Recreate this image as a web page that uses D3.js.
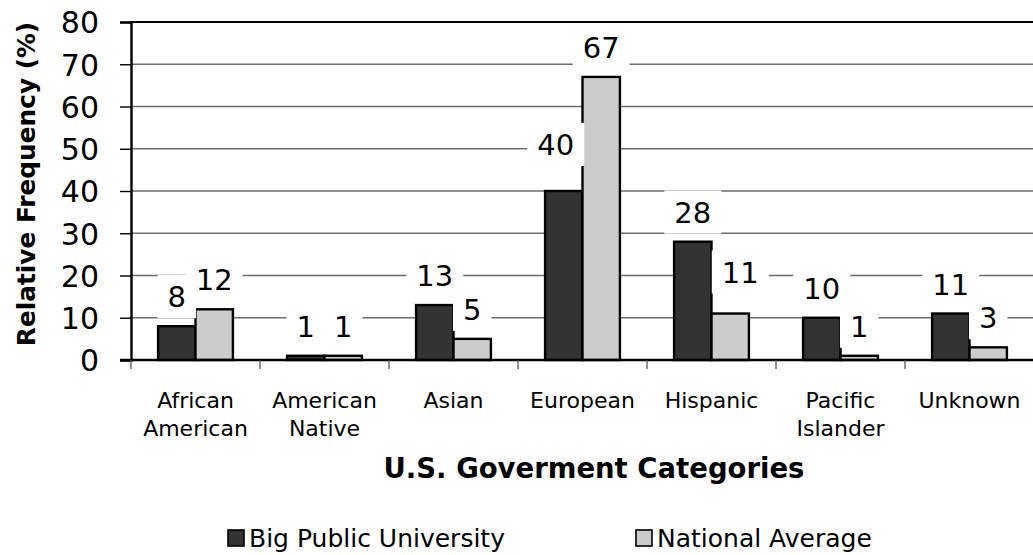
<!DOCTYPE html>
<html>
<head>
<meta charset="utf-8">
<script src="https://cdn.jsdelivr.net/npm/d3@7"></script>
<style>
  body { margin: 0; background: #fff; }
  svg { display: block; }
  text { font-family: "DejaVu Sans", Verdana, sans-serif; fill: #000; }
</style>
</head>
<body>
<svg id="chart" width="1033" height="555"></svg>
<script>
// Ethnic make-up: a large public university vs. the national average (%)
const categories = ["African American", "American Native", "Asian", "European",
                    "Hispanic", "Pacific Islander", "Unknown"];
const seriesNames = ["Big Public University", "National Average"];
const bigPublic   = [8, 1, 13, 40, 28, 10, 11];
const nationalAvg = [12, 1, 5, 67, 11, 1, 3];
const yTicks = [0, 10, 20, 30, 40, 50, 60, 70, 80];
const xTitle = "U.S. Goverment Categories";
const yTitle = "Relative Frequency (%)";

const seriesValues = [bigPublic, nationalAvg];
const fills = ["#333333", "#cccccc"];

const plot = { left: 131, right: 1034, top: 22, bottom: 360 };
const svg = d3.select("#chart");

const x0 = d3.scaleBand().domain(categories).range([plot.left, plot.right]).padding(0);
const groupW = x0.bandwidth() * 0.58;
const x1 = d3.scaleBand().domain(seriesNames).range([0, groupW]).padding(0);
const y = d3.scaleLinear().domain([0, 80]).range([plot.bottom, plot.top]);

// horizontal gridlines
svg.append("g").selectAll("line")
  .data(yTicks.filter(t => t > 0))
  .join("line")
  .attr("x1", plot.left).attr("x2", plot.right)
  .attr("y1", d => y(d)).attr("y2", d => y(d))
  .attr("stroke", d => d === 80 ? "#000" : "#6e6e6e")
  .attr("stroke-width", d => d === 80 ? 2.2 : 1.4);

// bars
const rows = [];
categories.forEach((c, i) => {
  seriesNames.forEach((s, j) => rows.push({ cat: c, series: s, si: j, value: seriesValues[j][i] }));
});

const groupOffset = (x0.bandwidth() - groupW) / 2;
svg.append("g").selectAll("rect")
  .data(rows)
  .join("rect")
  .attr("x", d => x0(d.cat) + groupOffset + x1(d.series))
  .attr("y", d => y(d.value))
  .attr("width", x1.bandwidth())
  .attr("height", d => y(0) - y(d.value))
  .attr("fill", d => fills[d.si])
  .attr("stroke", "#000")
  .attr("stroke-width", 2.4);

// value labels on white boxes
const labelSize = 29;
const capH = labelSize * 0.729;
const labelGap = 19;
const labelNudge = {
  "European|Big Public University": [-8, -17],
  "Hispanic|National Average": [10, -12]
};
const lg = svg.append("g");
rows.forEach(d => {
  const nudge = labelNudge[d.cat + "|" + d.series] || [0, 0];
  const cx = x0(d.cat) + groupOffset + x1(d.series) + x1.bandwidth() / 2 + nudge[0];
  const base = y(d.value) - labelGap + nudge[1];
  const rect = lg.append("rect").attr("fill", "#fff");
  const t = lg.append("text")
    .attr("x", cx).attr("y", base)
    .attr("text-anchor", "middle")
    .attr("font-size", labelSize)
    .text(d.value);
  const tw = t.node().getComputedTextLength();
  rect.attr("x", cx - tw / 2 - 10).attr("width", tw + 20)
      .attr("y", base - capH - 11).attr("height", capH + 22);
});

// y axis
const yAxis = d3.axisLeft(y).tickValues(yTicks).tickSize(11).tickPadding(21);
const ya = svg.append("g").attr("transform", `translate(${plot.left},0)`).call(yAxis);
ya.select(".domain").attr("stroke", "#000").attr("stroke-width", 2.4);
ya.selectAll(".tick line").attr("stroke", "#000").attr("stroke-width", 1.4);
ya.selectAll(".tick text")
  .attr("font-family", "DejaVu Sans, sans-serif")
  .attr("font-size", 30).attr("fill", "#000").attr("dy", "0.36em");

// x axis baseline and category boundary ticks
svg.append("line")
  .attr("x1", plot.left - 11).attr("x2", plot.right)
  .attr("y1", y(0)).attr("y2", y(0))
  .attr("stroke", "#000").attr("stroke-width", 2.4);
svg.append("g").selectAll("line")
  .data(categories.map(c => x0(c)).concat([plot.right]))
  .join("line")
  .attr("x1", d => d).attr("x2", d => d)
  .attr("y1", y(0)).attr("y2", y(0) + 9)
  .attr("stroke", "#555").attr("stroke-width", 1.3);

// category labels (wrapped on spaces)
const cg = svg.append("g");
categories.forEach(c => {
  const t = cg.append("text")
    .attr("text-anchor", "middle")
    .attr("font-size", 22);
  c.split(" ").forEach((w, k) => {
    t.append("tspan")
      .attr("x", x0(c) + x0.bandwidth() / 2)
      .attr("y", 408 + k * 28)
      .text(w);
  });
});

// axis titles
svg.append("text")
  .attr("x", 594).attr("y", 478)
  .attr("text-anchor", "middle")
  .attr("font-size", 27.5).attr("font-weight", "bold")
  .text(xTitle);

svg.append("text")
  .attr("transform", "translate(35,184) rotate(-90)")
  .attr("text-anchor", "middle")
  .attr("font-size", 24.8).attr("font-weight", "bold")
  .text(yTitle);

// legend
const legendX = [228, 636];
const lgd = svg.append("g");
seriesNames.forEach((s, j) => {
  lgd.append("rect")
    .attr("x", legendX[j]).attr("y", 530)
    .attr("width", 16).attr("height", 16)
    .attr("fill", fills[j]).attr("stroke", "#000").attr("stroke-width", 1.6);
  lgd.append("text")
    .attr("x", legendX[j] + 21).attr("y", 547)
    .attr("font-size", 25)
    .text(s);
});
</script>
</body>
</html>
